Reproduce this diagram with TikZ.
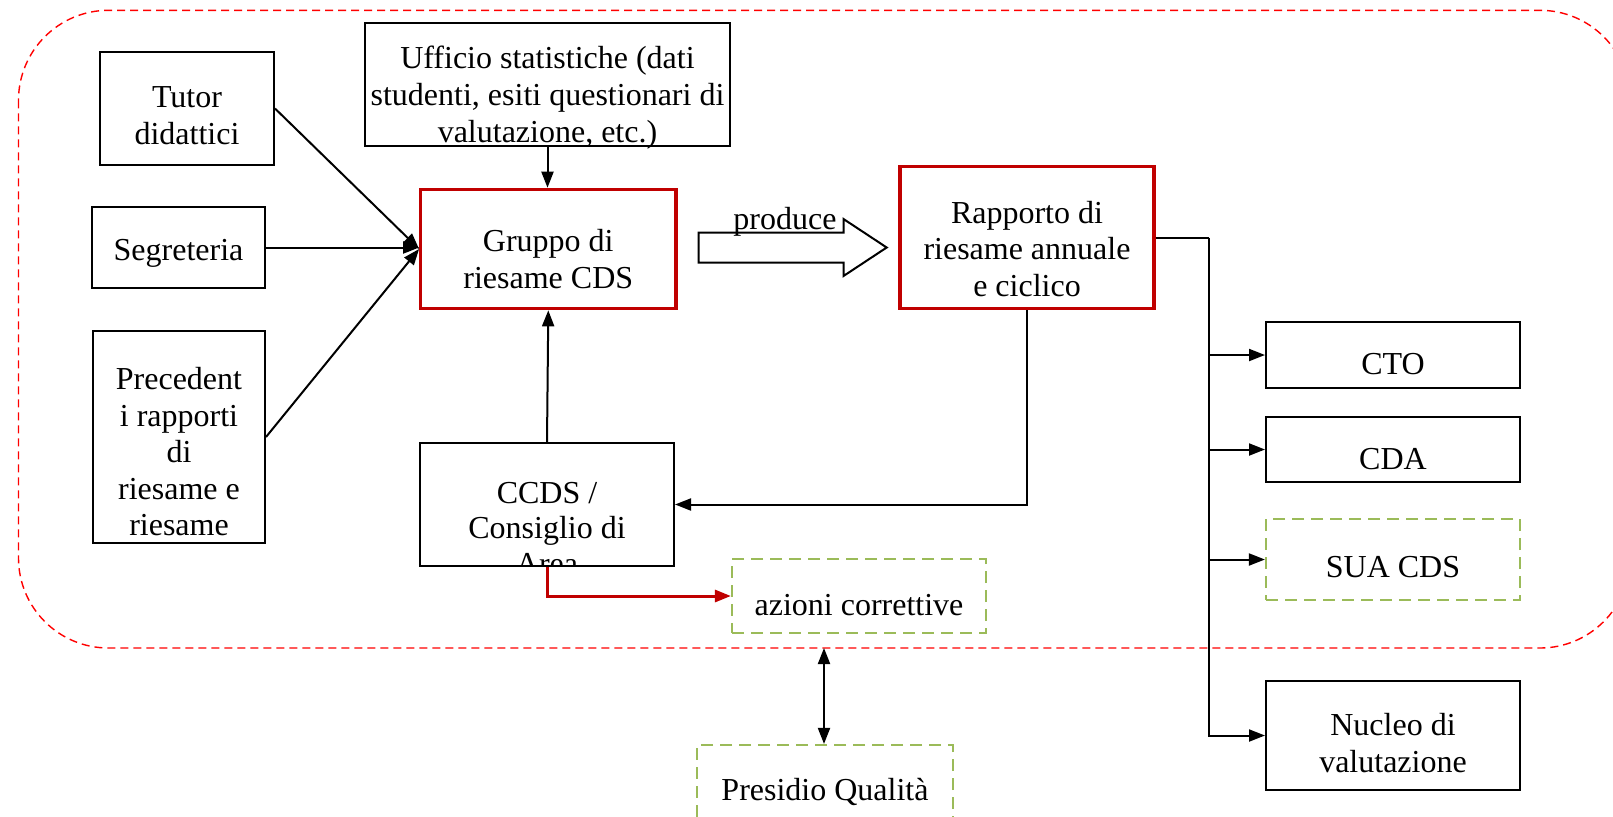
\documentclass[tikz,border=0pt]{standalone}
\usepackage{fontspec}
\setmainfont{Liberation Serif}
\usetikzlibrary{arrows.meta,calc}
\definecolor{boxred}{HTML}{C00000}
\definecolor{framered}{HTML}{FF0000}
\definecolor{olivegreen}{HTML}{9BBB59}

\begin{document}
\begin{tikzpicture}[x=0.5pt,y=-0.5pt,
  every node/.style={font=\fontsize{16}{18.4}\selectfont},
  box/.style={draw=black, line width=1pt, inner sep=0pt},
  keybox/.style={draw=boxred, line width=1.6pt, inner sep=0pt},
  dashbox/.style={draw=olivegreen, line width=1.1pt, dash pattern=on 6pt off 3.5pt, inner sep=0pt},
  txt/.style={align=center, inner sep=0pt},
  link/.style={line width=1pt, -{Triangle[length=8pt,width=6pt]}},
  redlink/.style={draw=boxred, line width=1.5pt, -{Triangle[length=8pt,width=6pt]}},
  ]
\useasboundingbox (0,0) rectangle (1613,816);

% quality perimeter
\draw[framered, line width=0.7pt, dash pattern=on 4pt off 2.5pt, rounded corners=45pt]
  (18.5,10.3) rectangle (1630,648);
\coordinate (edge) at (824,648);

% input sources
\node[box, minimum width=87pt, minimum height=56.5pt] (tutor) at (187,108.5) {};
\node[txt] (tutorT) at (187,116) {Tutor\\didattici};
\node[box, minimum width=86.5pt, minimum height=40.5pt] (segr) at (178.5,247.5) {};
\node[txt] (segrT) at (178.5,253) {Segreteria};
\node[box, minimum width=86pt, minimum height=106pt] (prec) at (179,437) {};
\node[txt, font=\fontsize{16}{18.25}\selectfont] (precT) at (179,452) {Precedent\\i rapporti\\di\\riesame e\\riesame};
\node[box, minimum width=182.5pt, minimum height=61.7pt] (uff) at (547.5,84.3) {};
\node[txt] (uffT) at (547.5,97.7) {Ufficio statistiche (dati\\studenti, esiti questionari di\\valutazione, etc.)};

% review group and report
\node[keybox, minimum width=127.6pt, minimum height=59.7pt] (gruppo) at (548.3,249) {};
\node[txt] (gruppoT) at (548.3,259) {Gruppo di\\riesame CDS};
\node[keybox, minimum width=127pt, minimum height=71pt] (rapporto) at (1027,237.6) {};
\node[txt] (rapportoT) at (1027,249) {Rapporto di\\riesame annuale\\e ciclico};

% council (last line cut by the box)
\node[box, minimum width=127pt, minimum height=61.5pt] (ccds) at (547,504.5) {};
\begin{scope}
  \clip ($(ccds.south west)+(1,-1.5)$) rectangle ($(ccds.north east)+(-1,1)$);
  \node[txt, font=\fontsize{16}{17.6}\selectfont] (ccdsT) at (547,528.5) {CCDS /\\Consiglio di\\Area};
\end{scope}

% corrective actions and quality office
\node[dashbox, minimum width=127pt, minimum height=37pt] (azioni) at (859,596) {};
\node[txt] (azioniT) at (859,605) {azioni correttive};
\node[dashbox, minimum width=128pt, minimum height=37pt] (presidio) at (825,782) {};
\node[txt] (presidioT) at (825,792) {Presidio Qualità};

% recipients
\node[box, minimum width=127pt, minimum height=33pt] (cto) at (1393,355) {};
\node[txt] (ctoT) at (1393,364) {CTO};
\node[box, minimum width=127pt, minimum height=32.5pt] (cda) at (1393,449.5) {};
\node[txt] (cdaT) at (1393,459) {CDA};
\node[dashbox, minimum width=127pt, minimum height=40.5pt] (sua) at (1393,559.5) {};
\node[txt] (suaT) at (1393,567) {SUA CDS};
\node[box, minimum width=127pt, minimum height=54.5pt] (nucleo) at (1393,735.5) {};
\node[txt] (nucleoT) at (1393,743) {Nucleo di\\valutazione};

% inputs into the review group
\draw[link] (tutor.east) -- (gruppo.west);
\draw[link] (segr.east) -- (segr.east -| gruppo.west);
\draw[link] (prec.east) -- (gruppo.west);
\draw[link] (uff.south) -- (uff.south |- gruppo.north);
\draw[link] (ccds.north) -- (gruppo.south);

% "produce" block arrow
\draw[line width=1pt, fill=white]
  (698.5,232.5) -- (843.5,232.5) -- (843.5,219) -- (886.7,247.5)
  -- (843.5,276) -- (843.5,262.5) -- (698.5,262.5) -- cycle;
\node[txt] (prodT) at (785,222) {produce};

% report distribution
\coordinate (spine) at (1209,237.6);
\draw[line width=1pt] (rapporto.east) -- (spine);
\draw[link] (spine) |- (nucleo.west);
\draw[link] (spine |- cto.west) -- (cto.west);
\draw[link] (spine |- cda.west) -- (cda.west);
\draw[link] (spine |- sua.west) -- (sua.west);

% feedback to the council
\draw[link] (rapporto.south) |- (ccds.east);
\draw[redlink] (ccds.south) |- (azioni.west);

% link with the quality office
\draw[line width=1pt, {Triangle[length=8pt,width=6pt]}-{Triangle[length=8pt,width=6pt]}]
  (edge) -- (edge |- presidio.north);
\end{tikzpicture}
\end{document}
